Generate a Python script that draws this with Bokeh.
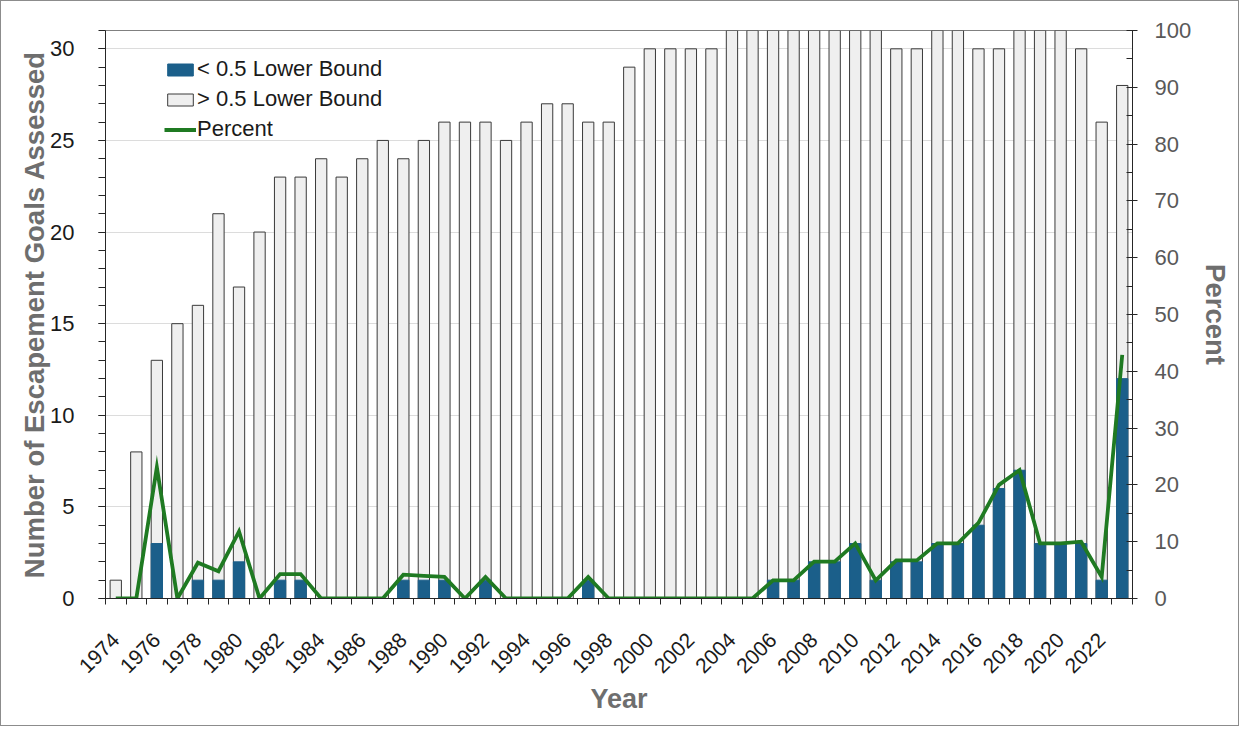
import math
from bokeh.plotting import figure
from bokeh.models import Range1d, LinearAxis, FixedTicker, Legend, LegendItem, ColumnDataSource
from bokeh.embed import file_html
from bokeh.resources import INLINE

years = list(range(1974, 2024))
total = [1, 8, 13, 15, 16, 21, 17, 20, 23, 23,
         24, 23, 24, 25, 24, 25, 26, 26, 26, 25,
         26, 27, 27, 26, 26, 29, 30, 30, 30, 30,
         31, 31, 31, 31, 31, 31, 31, 31, 30, 30,
         31, 31, 30, 30, 31, 31, 31, 30, 26, 28]
below = [0, 0, 3, 0, 1, 1, 2, 0, 1, 1,
         0, 0, 0, 0, 1, 1, 1, 0, 1, 0,
         0, 0, 0, 1, 0, 0, 0, 0, 0, 0,
         0, 0, 1, 1, 2, 2, 3, 1, 2, 2,
         3, 3, 4, 6, 7, 3, 3, 3, 1, 12]
percent = [0, 0, 23.1, 0, 6.3, 4.8, 11.8, 0, 4.3, 4.3,
           0, 0, 0, 0, 4.2, 4.0, 3.8, 0, 3.8, 0,
           0, 0, 0, 3.8, 0, 0, 0, 0, 0, 0,
           0, 0, 3.2, 3.2, 6.5, 6.5, 9.7, 3.2, 6.7, 6.7,
           9.7, 9.7, 13.3, 20.0, 22.6, 9.7, 9.7, 10.0, 3.8, 42.9]
label_years = list(range(1974, 2024, 2))
left_ticks = list(range(0, 31, 5))
right_ticks = list(range(0, 101, 10))

src = ColumnDataSource(dict(year=years, total=total, below=below, percent=percent))

FONT = "Liberation Sans"
BLUE = "#1b5f8a"
GREEN = "#1f7a22"

p = figure(width=1239, height=726, output_backend="svg", toolbar_location=None,
           x_range=Range1d(1973.5, 2023.5), y_range=Range1d(0, 31),
           min_border_left=104, min_border_right=108, min_border_top=29, min_border_bottom=129,
           styles={"border": "1px solid #8c8c8c"})
p.extra_y_ranges = {"pct": Range1d(0, 100)}

p.outline_line_color = "#808080"
p.outline_line_width = 1
p.background_fill_color = "white"
p.border_fill_color = "white"

r_gray = p.vbar(x="year", top="total", bottom=0, width=0.55, source=src,
                fill_color="#efefef", line_color="#3a3a3a", line_width=1)
r_blue = p.vbar(x="year", top="below", bottom=0, width=0.55, source=src,
                fill_color=BLUE, line_color=BLUE, line_width=1)
r_line = p.line(x="year", y="percent", source=src, y_range_name="pct",
                line_color=GREEN, line_width=3.8, line_join="miter")

# x axis
xa = p.xaxis[0]
xa.ticker = FixedTicker(ticks=label_years, minor_ticks=[1973.5 + i for i in range(51)])
xa.major_tick_out = 0
xa.major_tick_in = 0
xa.minor_tick_out = 6
xa.minor_tick_in = 0
xa.minor_tick_line_color = "#262626"
xa.axis_line_color = "#262626"
xa.major_label_orientation = math.pi / 4
xa.major_label_text_font = FONT
xa.major_label_text_font_size = "21px"
xa.major_label_text_color = "#1a1a1a"
xa.major_label_standoff = 32
xa.axis_label = "Year"
xa.axis_label_text_font = FONT
xa.axis_label_text_font_style = "bold"
xa.axis_label_text_font_size = "27px"
xa.axis_label_text_color = "#6e6e6e"
xa.axis_label_standoff = 2

# left axis
ya = p.yaxis[0]
ya.ticker = FixedTicker(ticks=left_ticks, minor_ticks=list(range(0, 32)))
ya.major_tick_out = 7
ya.major_tick_in = 0
ya.minor_tick_out = 7
ya.minor_tick_in = 0
ya.major_tick_line_color = "#262626"
ya.minor_tick_line_color = "#262626"
ya.axis_line_color = "#262626"
ya.major_label_text_font = FONT
ya.major_label_text_font_size = "22px"
ya.major_label_text_color = "#1a1a1a"
ya.major_label_standoff = 24
ya.axis_label = "Number of Escapement Goals Assessed"
ya.axis_label_text_font = FONT
ya.axis_label_text_font_style = "bold"
ya.axis_label_text_font_size = "27.5px"
ya.axis_label_text_color = "#6e6e6e"
ya.axis_label_standoff = -3

# right axis
ra = LinearAxis(y_range_name="pct", ticker=FixedTicker(ticks=right_ticks, minor_ticks=list(range(0, 101, 5))))
ra.major_tick_out = 5
ra.major_tick_in = 5
ra.minor_tick_out = 0
ra.minor_tick_in = 6
ra.major_tick_line_color = "#262626"
ra.minor_tick_line_color = "#262626"
ra.axis_line_color = "#262626"
ra.major_label_text_font = FONT
ra.major_label_text_font_size = "22px"
ra.major_label_text_color = "#595959"
ra.major_label_standoff = 17
ra.axis_label = "Percent"
ra.axis_label_text_font = FONT
ra.axis_label_text_font_style = "bold"
ra.axis_label_text_font_size = "27.5px"
ra.axis_label_text_color = "#6e6e6e"
ra.axis_label_standoff = 6
p.add_layout(ra, "right")

p.xgrid.visible = False
p.ygrid.ticker = FixedTicker(ticks=left_ticks[1:])
p.ygrid.grid_line_color = "#dcdcdc"
p.ygrid.grid_line_width = 1

legend = Legend(items=[
    LegendItem(label="< 0.5 Lower Bound", renderers=[r_blue]),
    LegendItem(label="> 0.5 Lower Bound", renderers=[r_gray]),
    LegendItem(label="Percent", renderers=[r_line]),
], location=(59, 456))
legend.background_fill_alpha = 0
legend.border_line_color = None
legend.padding = 0
legend.margin = 0
legend.spacing = 4
legend.glyph_width = 32
legend.glyph_height = 15
legend.label_standoff = 1
legend.label_text_font = FONT
legend.label_text_font_size = "22px"
legend.label_text_color = "#1a1a1a"
p.add_layout(legend, "center")

open("out.html", "w").write(file_html(p, INLINE))
